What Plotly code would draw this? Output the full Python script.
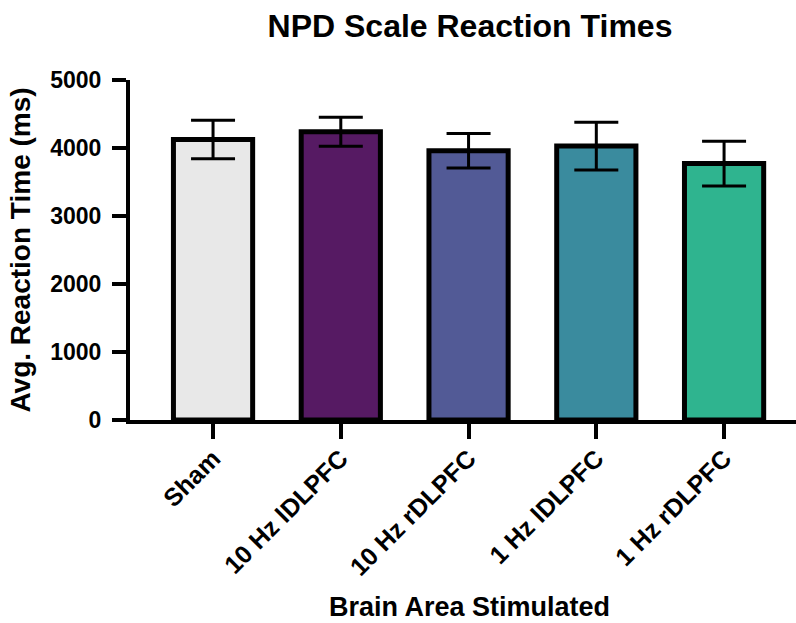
import plotly.graph_objects as go

categories = ["Sham", "10 Hz lDLPFC", "10 Hz rDLPFC", "1 Hz lDLPFC", "1 Hz rDLPFC"]
mean_rt = [4125, 4238, 3960, 4028, 3772]
sem_rt = [282, 213, 253, 351, 329]
bar_colors = ["#E8E8E8", "#561A63", "#525A96", "#3A8B9E", "#2FB48F"]
y_ticks = [0, 1000, 2000, 3000, 4000, 5000]

FONT = "Liberation Sans, Arial, Helvetica, sans-serif"

fig = go.Figure()
fig.add_trace(go.Bar(
    x=categories,
    y=mean_rt,
    marker=dict(color=bar_colors, line=dict(color="black", width=5)),
    error_y=dict(type="data", array=sem_rt, visible=True, color="black",
                 thickness=3, width=22),
    width=0.62,
    showlegend=False,
))

fig.update_layout(
    width=796, height=623,
    margin=dict(l=130, r=0, t=80, b=203),
    paper_bgcolor="white", plot_bgcolor="white",
    font=dict(family=FONT, color="black", size=23, weight="bold"),
    title=dict(text="NPD Scale Reaction Times", x=0.5105, xref="paper", xanchor="center",
               y=1 - 26 / 623, yref="container", yanchor="middle",
               font=dict(size=32, family=FONT, weight="bold", color="black")),
    xaxis=dict(
        range=[-0.65, 4.563],
        showline=True, linecolor="black", linewidth=4,
        ticks="outside", ticklen=15, tickwidth=4, tickcolor="black",
        tickangle=-45, tickfont=dict(size=25, family=FONT, weight="bold"),
        ticklabelstandoff=-5,
        showgrid=False, zeroline=False,
    ),
    yaxis=dict(
        range=[0, 5000],
        tickvals=y_ticks,
        showline=True, linecolor="black", linewidth=4,
        ticks="outside", ticklen=14, tickwidth=4, tickcolor="black",
        tickfont=dict(size=23, family=FONT, weight="bold"),
        ticklabelstandoff=6,
        showgrid=False, zeroline=False,
        title=dict(text="Avg. Reaction Time (ms)", standoff=12,
                   font=dict(size=28, family=FONT, weight="bold")),
    ),
    annotations=[dict(
        text="Brain Area Stimulated", xref="paper", yref="paper",
        x=(469 - 130) / 666, y=-187 / 340, xanchor="center", yanchor="middle",
        showarrow=False, font=dict(size=27, family=FONT, weight="bold", color="black"),
    )],
)

fig.write_html("out.html", config={"displayModeBar": False},
               post_script="document.body.style.margin='0';")
